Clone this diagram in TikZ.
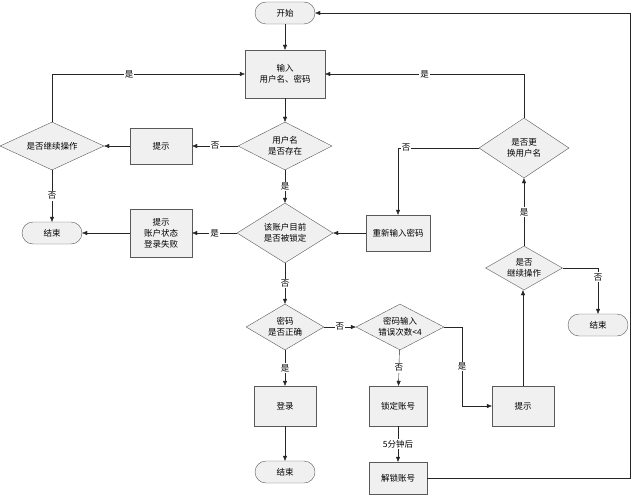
\documentclass[tikz,border=0pt]{standalone}
\usepackage{fontspec}
\setmainfont{Noto Sans CJK SC}
\usetikzlibrary{shapes.geometric,arrows.meta}
\tikzset{
  box/.style={draw=gray!70!black, fill=gray!12, minimum width=62pt, minimum height=40pt, align=center, font=\fontsize{8.5}{11}\selectfont},
  term/.style={draw=gray!70!black, fill=gray!12, rounded corners=11pt, minimum width=60pt, minimum height=22pt, font=\fontsize{8.5}{11}\selectfont},
  choice/.style={draw=gray!70!black, fill=gray!12, diamond, aspect=2, inner sep=1pt, align=center, font=\fontsize{8.5}{11}\selectfont},
  line/.style={draw=gray!30!black, -{Triangle[length=5pt,width=4pt]}},
  lbl/.style={fill=white, inner sep=1pt, font=\fontsize{8.5}{11}\selectfont}
}
\begin{document}
\begin{tikzpicture}[x=1pt,y=-1pt]
\useasboundingbox (0,0) rectangle (636,500);
\node[term] (start) at (285,13) {开始};
\node[box, minimum width=80pt, minimum height=48pt] (input) at (285,74) {输入\\用户名、密码};
\node[choice, minimum width=94pt, minimum height=48pt] (exists) at (285,146) {用户名\\是否存在};
\node[box, minimum height=36pt] (tipa) at (161,146) {提示};
\node[choice, minimum width=104pt, minimum height=48pt] (goon) at (52,146) {是否继续操作};
\node[term] (enda) at (52,233) {结束};
\node[box, minimum height=48pt] (tipb) at (161,233) {提示\\账户状态\\登录失败};
\node[choice, minimum width=96pt, minimum height=60pt] (locked) at (285,233) {该账户目前\\是否被锁定};
\node[box, minimum width=64pt, minimum height=36pt] (again) at (398,233) {重新输入密码};
\node[choice, minimum width=90pt, minimum height=60pt] (change) at (524,148) {是否更\\换用户名};
\node[choice, minimum width=76pt, minimum height=44pt] (goonb) at (524,268) {是否\\继续操作};
\node[term] (endb) at (598,325) {结束};
\node[choice, minimum width=70pt, minimum height=46pt] (right) at (285,327) {密码\\是否正确};
\node[choice, minimum width=88pt, minimum height=46pt] (count) at (400,327) {密码输入\\错误次数<4};
\node[box] (login) at (285,406) {登录};
\node[term] (endc) at (285,472) {结束};
\node[box, minimum width=58pt] (lock) at (398,406) {锁定账号};
\node[box, minimum width=58pt, minimum height=32pt] (unlock) at (398,478) {解锁账号};
\node[box] (tipc) at (523,406) {提示};

\draw[line] (start) -- (input);
\draw[line] (input) -- (exists);
\draw[line] (exists) -- node[lbl] {否} (tipa);
\draw[line] (tipa) -- (goon);
\draw[line] (goon.north) |- node[lbl, pos=0.7] {是} (input.west);
\draw[line] (goon) -- node[lbl] {否} (enda);
\draw[line] (exists) -- node[lbl] {是} (locked);
\draw[line] (locked) -- node[lbl] {是} (tipb);
\draw[line] (tipb) -- (enda);
\draw[line] (locked) -- node[lbl] {否} (right);
\draw[line] (right) -- node[lbl] {否} (count);
\draw[line] (right) -- node[lbl] {是} (login);
\draw[line] (login) -- (endc);
\draw[line] (count) -- node[lbl] {否} (lock);
\draw[line] (lock) -- node[lbl] {5分钟后} (unlock);
\draw[line] (count.east) -| node[lbl, pos=0.75] {是} (462,406) -- (tipc.west);
\draw[line] (tipc.north) -- (tipc.north |- goonb.south);
\draw[line] (goonb) -- node[lbl] {是} (change);
\draw[line] (goonb.east) -| node[lbl, pos=0.6] {否} (endb.north);
\draw[line] (change.north) |- node[lbl, pos=0.75] {是} (input.east);
\draw[line] (change.west) -| node[lbl, pos=0.45] {否} (again.north);
\draw[line] (again) -- (locked);
\draw[line] (unlock.east) -- (630,478) |- (start.east);
\end{tikzpicture}
\end{document}
